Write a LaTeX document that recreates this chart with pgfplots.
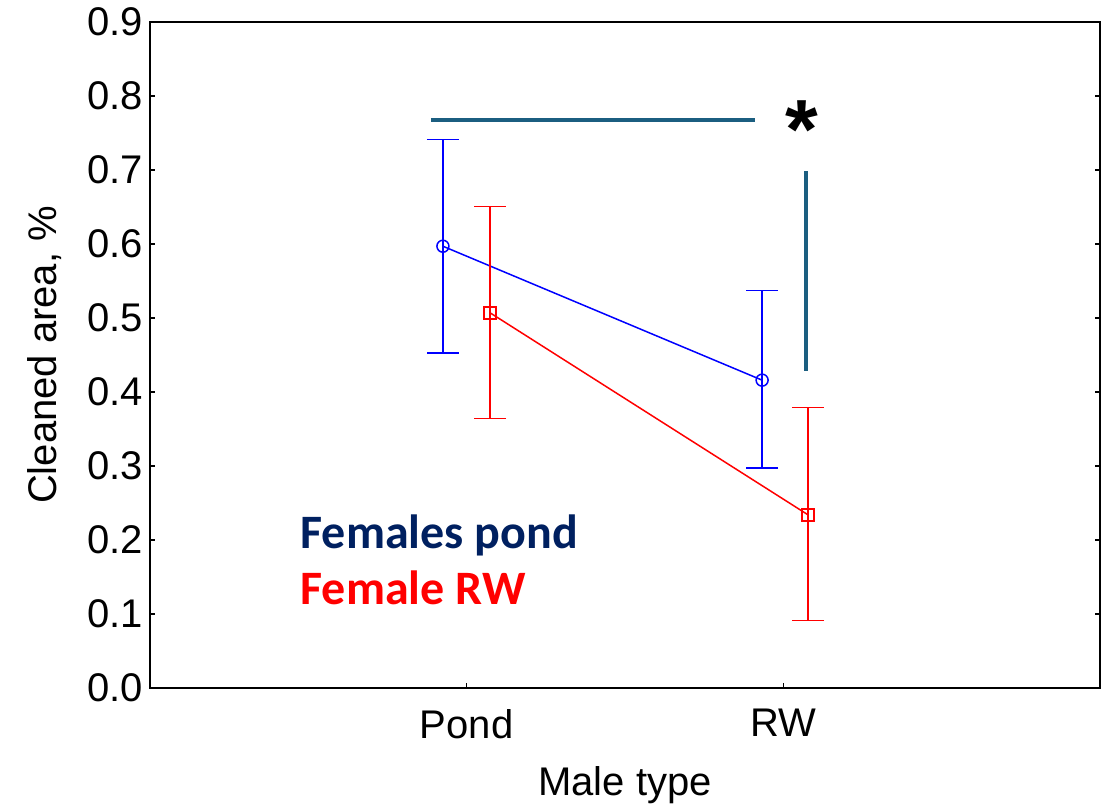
\documentclass[border=0pt]{standalone}
\usepackage{pgfplots}
\pgfplotsset{compat=1.18}
\usepackage{fontspec}
\setmainfont{Liberation Sans}
\newfontfamily\carlito{Carlito}
\definecolor{navy}{RGB}{0,32,96}
\definecolor{annot}{RGB}{27,94,128}
\begin{document}
\begin{tikzpicture}
\begin{axis}[
  scale only axis, width=475bp, height=333bp,
  xmin=0, xmax=3, ymin=0, ymax=0.9,
  xtick={1,2}, xticklabels={Pond,RW},
  ytick={0,0.1,...,0.9},
  yticklabel style={/pgf/number format/.cd,fixed,fixed zerofill,precision=1},
  xticklabel style={yshift=-7bp},
  /pgf/number format/assume math mode=true,
  tick label style={font=\fontsize{20bp}{24bp}\selectfont},
  label style={font=\fontsize{20bp}{24bp}\selectfont},
  xtick pos=lower, ytick pos=both,
  tick align=inside, major tick length=2.5bp,
  axis line style={line width=0.9bp},
  tick style={line width=0.8bp, black},
  xlabel={Male type}, ylabel={Cleaned area, \%},
  xlabel style={at={(axis description cs:0.5,-0.1456)}, anchor=center},
  ylabel style={at={(axis description cs:-0.1105,0.5)}, anchor=center, rotate=0},
  clip=false,
]
% annotation lines
\addplot[annot, line width=2bp, forget plot] coordinates {(0.887,0.767) (1.909,0.767)};
\addplot[annot, line width=2bp, forget plot] coordinates {(2.072,0.698) (2.072,0.429)};
% blue series
\addplot[blue, line width=0.75bp, mark=o, mark size=3bp, mark options={solid},
  error bars/.cd, y dir=both, y explicit,
  error bar style={line width=0.75bp},
  error mark options={line width=0.75bp, mark size=8bp, rotate=90}]
  coordinates {
  (0.925,0.597) += (0,0.144) -= (0,0.144)
  (1.933,0.416) += (0,0.121) -= (0,0.119)
  };
% red series
\addplot[red, line width=0.75bp, mark=square, mark size=3bp, mark options={solid},
  error bars/.cd, y dir=both, y explicit,
  error bar style={line width=0.75bp},
  error mark options={line width=0.75bp, mark size=8bp, rotate=90}]
  coordinates {
  (1.074,0.507) += (0,0.144) -= (0,0.143)
  (2.078,0.234) += (0,0.145) -= (0,0.1425)
  };
\node[anchor=base west, inner sep=0pt, text=navy, font=\carlito\bfseries\fontsize{24bp}{28bp}\selectfont] at (axis cs:0.474,0.189) {Females pond};
\node[anchor=base west, inner sep=0pt, text=red, font=\carlito\bfseries\fontsize{24bp}{28bp}\selectfont] at (axis cs:0.474,0.113) {Female RW};
\node[anchor=center, inner sep=0pt, font=\bfseries\fontsize{42bp}{42bp}\selectfont] at (axis cs:2.058,0.755) {*};
\end{axis}
\pgfresetboundingbox
\path[use as bounding box] (-75bp,-61.5bp) rectangle (478.5bp,344bp);
\end{tikzpicture}
\end{document}
